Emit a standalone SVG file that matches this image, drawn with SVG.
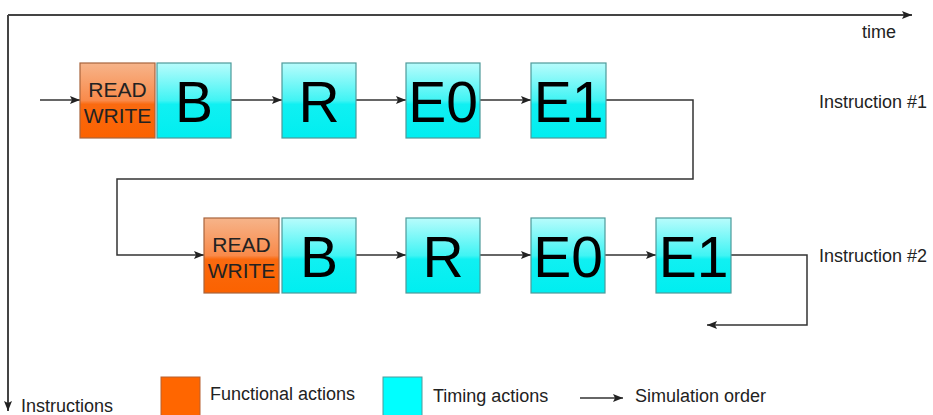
<svg xmlns="http://www.w3.org/2000/svg" width="933" height="415" viewBox="0 0 933 415">
<defs>
<linearGradient id="gOr" x1="0" y1="0" x2="0" y2="1">
<stop offset="0" stop-color="#f6b48a"/>
<stop offset="0.5" stop-color="#f98a4a"/>
<stop offset="0.55" stop-color="#fa6a10"/>
<stop offset="1" stop-color="#fb6200"/>
</linearGradient>
<linearGradient id="gCy" x1="0" y1="0" x2="0" y2="1">
<stop offset="0" stop-color="#b8fcfc"/>
<stop offset="0.5" stop-color="#40f4f4"/>
<stop offset="0.55" stop-color="#10f0f2"/>
<stop offset="1" stop-color="#00eef0"/>
</linearGradient>
<marker id="ah" viewBox="0 0 10 10" refX="10" refY="5" markerWidth="10" markerHeight="10" markerUnits="userSpaceOnUse" orient="auto">
<path d="M0,1 L10,5 L0,9 L2,5 Z" fill="#222"/>
</marker>
</defs>
<style>
.fn{fill:url(#gOr);stroke:#a8643c;stroke-width:1.2}
.tm{fill:url(#gCy);stroke:#4e9a9a;stroke-width:1.2}
.big{font-family:"Liberation Sans",Arial,sans-serif;font-size:57px;fill:#000;text-anchor:middle}
.rw{font-family:"Liberation Sans",Arial,sans-serif;font-size:21px;fill:#222;text-anchor:middle}
.lbl{font-family:"Liberation Sans",Arial,sans-serif;font-size:18px;fill:#222}
.ln{fill:none;stroke:#333;stroke-width:1.5}
.ax{fill:none;stroke:#444;stroke-width:2}
</style>
<g id="axes">
<path class="ax" d="M8,15 L912,15" marker-end="url(#ah)"/>
<path class="ax" d="M8,15 L8,411" marker-end="url(#ah)"/>
<text class="lbl" x="862" y="38">time</text>
<text class="lbl" x="21" y="412">Instructions</text>
</g>
<g id="connectors">
<path class="ln" d="M40,100 L80,100" marker-end="url(#ah)"/>
<path class="ln" d="M231,100 L282,100" marker-end="url(#ah)"/>
<path class="ln" d="M356,100 L406,100" marker-end="url(#ah)"/>
<path class="ln" d="M480,100 L531,100" marker-end="url(#ah)"/>
<path class="ln" d="M606,100 L693,100 L693,179 L117,179 L117,255 L204,255" marker-end="url(#ah)"/>
<path class="ln" d="M356,255 L406,255" marker-end="url(#ah)"/>
<path class="ln" d="M480,255 L531,255" marker-end="url(#ah)"/>
<path class="ln" d="M605,255 L656,255" marker-end="url(#ah)"/>
<path class="ln" d="M731,255 L807,255 L807,325 L707,325" marker-end="url(#ah)"/>
</g>
<g id="i1-rw"><rect class="fn" x="80" y="63" width="75" height="75"/><text class="rw" x="117.5" y="97">READ</text><text class="rw" x="117.5" y="123">WRITE</text></g>
<g id="i1-B"><rect class="tm" x="157" y="63" width="74" height="75"/><text class="big" x="194" y="122">B</text></g>
<g id="i1-R"><rect class="tm" x="282" y="63" width="74" height="75"/><text class="big" x="319" y="122">R</text></g>
<g id="i1-E0"><rect class="tm" x="406" y="63" width="74" height="75"/><text class="big" x="443" y="122">E0</text></g>
<g id="i1-E1"><rect class="tm" x="531" y="63" width="75" height="75"/><text class="big" x="568.5" y="122">E1</text></g>
<g id="i2-rw"><rect class="fn" x="204" y="218" width="75" height="75"/><text class="rw" x="241.5" y="252">READ</text><text class="rw" x="241.5" y="278">WRITE</text></g>
<g id="i2-B"><rect class="tm" x="282" y="218" width="74" height="75"/><text class="big" x="319" y="277">B</text></g>
<g id="i2-R"><rect class="tm" x="406" y="218" width="74" height="75"/><text class="big" x="443" y="277">R</text></g>
<g id="i2-E0"><rect class="tm" x="531" y="218" width="74" height="75"/><text class="big" x="568" y="277">E0</text></g>
<g id="i2-E1"><rect class="tm" x="656" y="218" width="75" height="75"/><text class="big" x="693.5" y="277">E1</text></g>
<g id="labels">
<text class="lbl" x="819" y="108">Instruction #1</text>
<text class="lbl" x="819" y="262">Instruction #2</text>
</g>
<g id="legend">
<rect x="161" y="377" width="39" height="40" fill="#ff6600" stroke="#b86030" stroke-width="1"/>
<text class="lbl" x="210" y="400">Functional actions</text>
<rect x="383" y="377" width="39" height="40" fill="#00ffff" stroke="#4e9a9a" stroke-width="1"/>
<text class="lbl" x="433" y="402">Timing actions</text>
<path class="ln" d="M580,398 L623,398" marker-end="url(#ah)"/>
<text class="lbl" x="635" y="402">Simulation order</text>
</g>
</svg>
